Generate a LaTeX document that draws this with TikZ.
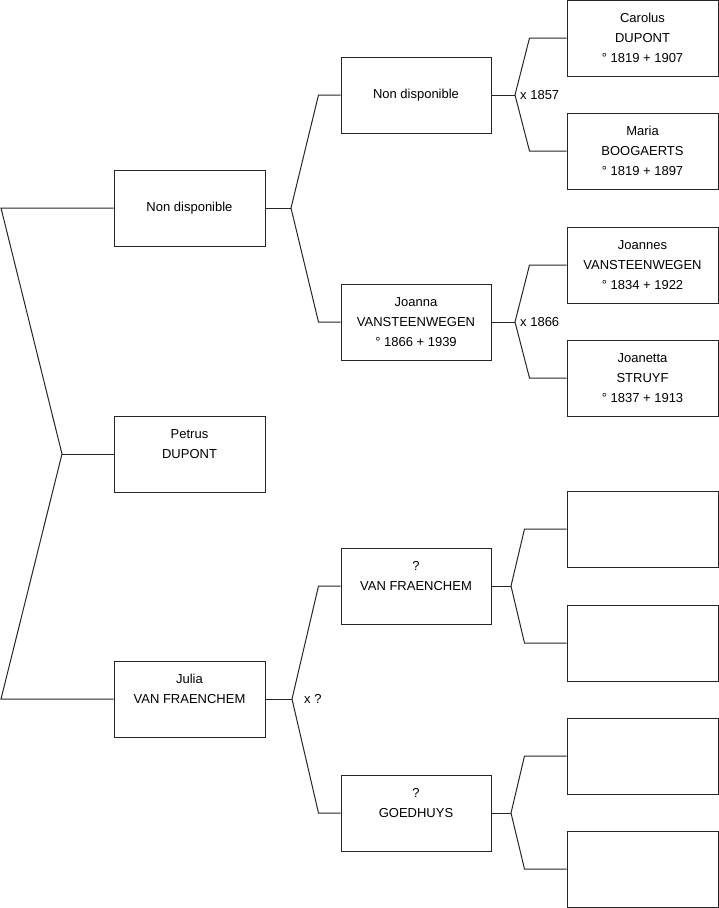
\documentclass[tikz,border=0pt]{standalone}
\usepackage{fontspec}
\setmainfont{Liberation Sans}
\usepackage{tikz}

\tikzset{
  person/.style={draw=black!85, line width=1pt, minimum width=151pt, minimum height=76pt,
    inner sep=0pt, align=center, font=\fontsize{13}{20}\selectfont},
  link/.style={draw=black!85, line width=1pt},
  wedding/.style={anchor=west, inner sep=0pt, font=\fontsize{13}{16}\selectfont}
}

\begin{document}
\begin{tikzpicture}[x=1pt,y=-1pt]
\useasboundingbox (0,0) rectangle (719,908);
% generation 1
\node[person] (ndA) at (189.5,208) {Non disponible};
\node[person] (petrus) at (189.5,454) {Petrus\\DUPONT\\\mbox{}};
\node[person] (julia) at (189.5,699) {Julia\\VAN FRAENCHEM\\\mbox{}};
% generation 2
\node[person, minimum width=150pt] (ndB) at (416,95) {Non disponible};
\node[person, minimum width=150pt] (joanna) at (416,322) {Joanna\\VANSTEENWEGEN\\° 1866 + 1939};
\node[person, minimum width=150pt] (vanfr) at (416,586) {?\\VAN FRAENCHEM\\\mbox{}};
\node[person, minimum width=150pt] (goedh) at (416,813) {?\\GOEDHUYS\\\mbox{}};
% generation 3
\node[person] (carolus) at (642.5,38) {Carolus\\DUPONT\\° 1819 + 1907};
\node[person] (maria) at (642.5,151) {Maria\\BOOGAERTS\\° 1819 + 1897};
\node[person] (joannes) at (642.5,265) {Joannes\\VANSTEENWEGEN\\° 1834 + 1922};
\node[person] (joanetta) at (642.5,378) {Joanetta\\STRUYF\\° 1837 + 1913};
\node[person] (emptyA) at (642.5,529) {};
\node[person] (emptyB) at (642.5,643) {};
\node[person] (emptyC) at (642.5,756) {};
\node[person] (emptyD) at (642.5,869) {};

% fork on the left
\coordinate (rootTop) at (1,208);
\coordinate (rootBot) at (1,699);
\coordinate (rootMid) at (62,454);
\draw[link] (ndA.west) -- (rootTop) -- (rootMid) -- (rootBot) -- (julia.west);
\draw[link] (rootMid) -- (petrus.west);

% forks to generation 2
\coordinate (forkA) at (291,208);
\draw[link] (ndB.west) -- ++(-22,0) -- (forkA) -- ([xshift=-22pt]joanna.west) -- (joanna.west);
\draw[link] (ndA.east) -- (forkA);
\coordinate (forkB) at (292,699);
\draw[link] (vanfr.west) -- ++(-22,0) -- (forkB) -- ([xshift=-22pt]goedh.west) -- (goedh.west);
\draw[link] (julia.east) -- (forkB);
\node[wedding] (wedB) at (304,699) {x ?};

% forks to generation 3
\coordinate (forkC) at (515,95);
\draw[link] (carolus.west) -- ++(-37,0) -- (forkC) -- ([xshift=-37pt]maria.west) -- (maria.west);
\draw[link] (ndB.east) -- (forkC);
\node[wedding] (wedC) at (520,95) {x 1857};
\coordinate (forkD) at (515,322);
\draw[link] (joannes.west) -- ++(-37,0) -- (forkD) -- ([xshift=-37pt]joanetta.west) -- (joanetta.west);
\draw[link] (joanna.east) -- (forkD);
\node[wedding] (wedD) at (520,322) {x 1866};
\coordinate (forkE) at (511,586);
\draw[link] (emptyA.west) -- ++(-42,0) -- (forkE) -- ([xshift=-42pt]emptyB.west) -- (emptyB.west);
\draw[link] (vanfr.east) -- (forkE);
\coordinate (forkF) at (511,813);
\draw[link] (emptyC.west) -- ++(-42,0) -- (forkF) -- ([xshift=-42pt]emptyD.west) -- (emptyD.west);
\draw[link] (goedh.east) -- (forkF);
\end{tikzpicture}
\end{document}
